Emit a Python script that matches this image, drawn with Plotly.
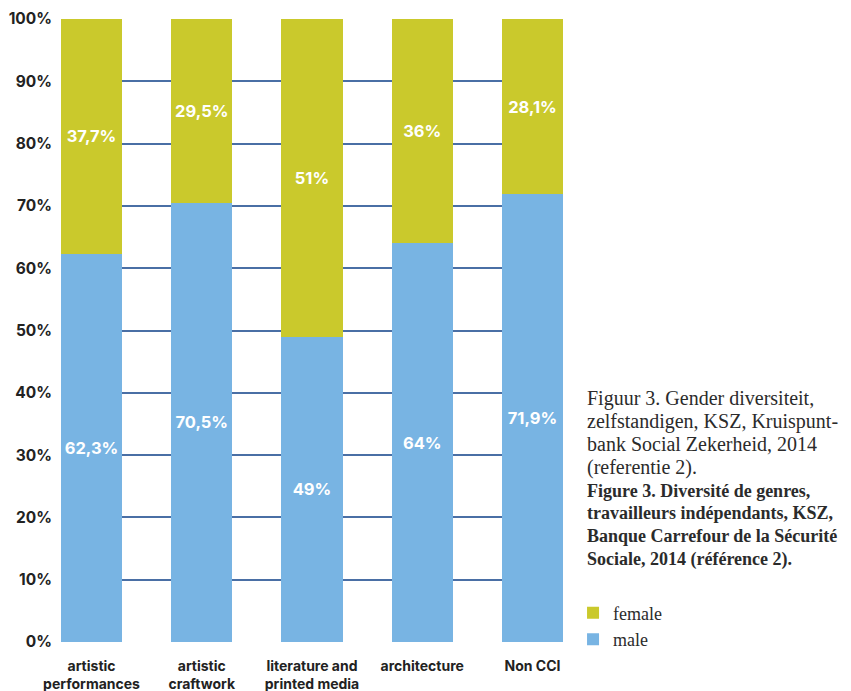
import plotly.graph_objects as go

categories = ["artistic<br>performances", "artistic<br>craftwork", "literature and<br>printed media", "architecture", "Non CCI"]
male = [62.3, 70.5, 49, 64, 71.9]
female = [37.7, 29.5, 51, 36, 28.1]
male_labels = ["62,3%", "70,5%", "49%", "64%", "71,9%"]
female_labels = ["37,7%", "29,5%", "51%", "36%", "28,1%"]
tick_vals = [0, 10, 20, 30, 40, 50, 60, 70, 80, 90, 100]
tick_text = [f"{v}%" for v in tick_vals]

label_font_b = dict(family="Inter", size=16.5, color="white", weight="bold")

fig = go.Figure()
fig.add_trace(go.Bar(
    x=categories, y=male, name="male", marker_color="#78b4e3",
    text=male_labels, textposition="inside", insidetextanchor="middle",
    textfont=label_font_b, marker_line_width=0,
))
fig.add_trace(go.Bar(
    x=categories, y=female, name="female", marker_color="#cac92c",
    text=female_labels, textposition="inside", insidetextanchor="middle",
    textfont=label_font_b, marker_line_width=0,
))

reg = '<span style="font-size:20px">{}</span>'
bold = '<span style="font-size:18px"><b>{}</b></span>'
caption = "<br>".join([
    reg.format("Figuur 3. Gender diversiteit,"),
    reg.format("zelfstandigen, KSZ, Kruispunt-"),
    reg.format("bank Social Zekerheid, 2014"),
    reg.format("(referentie 2)."),
    bold.format("Figure 3. Diversité de genres,"),
    bold.format("travailleurs indépendants, KSZ,"),
    bold.format("Banque Carrefour de la Sécurité"),
    bold.format("Sociale, 2014 (référence 2)."),
])

fig.add_annotation(
    text=caption, xref="paper", yref="paper", x=1.043, y=0.412,
    xanchor="left", yanchor="top", align="left", showarrow=False,
    font=dict(family="Liberation Serif", size=17.6, color="#2b2b2b"),
)

fig.update_layout(
    barmode="stack",
    bargap=0.445,
    width=843, height=683,
    margin=dict(l=53, r=288, t=11, b=49, autoexpand=False),
    plot_bgcolor="white", paper_bgcolor="white",
    showlegend=True,
    legend=dict(
        x=1.02, y=0.076, xanchor="left", yanchor="top",
        traceorder="reversed",
        font=dict(family="Liberation Serif", size=18, color="#2b2b2b"),
        itemwidth=30, tracegroupgap=0,
    ),
)
fig.update_yaxes(
    range=[0, 100], tickvals=tick_vals, ticktext=tick_text,
    showgrid=True, gridcolor="#4a6fa5", gridwidth=1.5,
    zeroline=False, showline=False, automargin=False,
    tickfont=dict(family="Inter", size=15.5, color="#222222", weight="bold"),
    ticks="", ticklabelstandoff=8,
)
fig.update_xaxes(
    range=[-0.277, 4.277], automargin=False,
    tickfont=dict(family="Inter", size=14, color="#222222", weight="bold"),
    showline=False, ticks="", ticklabelstandoff=14,
)

fig.write_html("out.html")
